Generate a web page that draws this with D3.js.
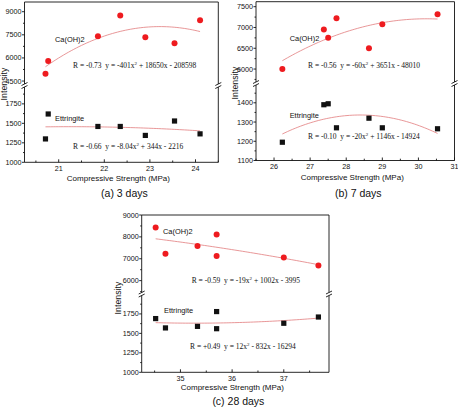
<!DOCTYPE html>
<html>
<head>
<meta charset="utf-8">
<script src="https://cdn.jsdelivr.net/npm/d3@7"></script>
<style>
    body { margin: 0; background: #fff; }
    svg { display: block; }
    .tick-label { font-family: "Liberation Sans", Arial, sans-serif; font-size: 7.2px; fill: #111; }
    .axis-title { font-family: "Liberation Sans", Arial, sans-serif; font-size: 8px; fill: #111; }
    .y-title { font-family: "Liberation Sans", Arial, sans-serif; font-size: 8.8px; fill: #111; }
    .caption { font-family: "Liberation Sans", Arial, sans-serif; font-size: 10.5px; fill: #111; }
    .species { font-family: "Liberation Sans", Arial, sans-serif; font-size: 7.4px; fill: #111; }
    .fit-text { font-family: "Liberation Serif", "Times New Roman", serif; font-size: 7.5px; fill: #111; }
    .frame { stroke: #111; stroke-width: 0.9; fill: none; }
    .fit { stroke: #e27c7e; stroke-width: 0.8; fill: none; }
</style>
</head>
<body>
<svg id="chart" width="458" height="407"></svg>
<script>
'use strict';

// (a) 3 days
var strength3 = [20.71, 20.77, 21.86, 22.35, 22.90, 23.54, 24.10];
var caoh3 = [4970, 5800, 7400, 8750, 7350, 6950, 8450];
var ettr3 = [1300, 1620, 1460, 1460, 1345, 1530, 1365];

// (b) 7 days
var strength7 = [26.23, 27.38, 27.50, 27.73, 28.63, 29.00, 30.53];
var caoh7 = [6000, 6950, 6750, 7220, 6500, 7080, 7320];
var ettr7 = [1195, 1390, 1395, 1270, 1320, 1270, 1265];

// (c) 28 days
var strength28 = [34.52, 34.71, 35.33, 35.70, 35.70, 37.00, 37.67];
var caoh28 = [8430, 7230, 7580, 8110, 7130, 7055, 6690];
var ettr28 = [1690, 1570, 1590, 1780, 1560, 1630, 1710];

// tick labels
var xTicks3 = [21, 22, 23, 24];
var xTicks7 = [26, 27, 28, 29, 30, 31];
var xTicks28 = [35, 36, 37];
var upperTicks3 = [4500, 6000, 7500, 9000];
var lowerTicks3 = [1000, 1250, 1500, 1750];
var upperTicks7 = [6000, 6500, 7000, 7500];
var lowerTicks7 = [1100, 1200, 1300, 1400];
var upperTicks28 = [6000, 7000, 8000, 9000];
var lowerTicks28 = [1000, 1250, 1500, 1750];

// texts
var captions = ['(a) 3 days', '(b) 7 days', '(c) 28 days'];
var caohR = ['R = -0.73', 'R = -0.56', 'R = -0.59'];
var caohEq = ['y = -401x^2 + 18650x - 208598', 'y = -60x^2 + 3651x - 48010', 'y = -19x^2 + 1002x - 3995'];
var ettrR = ['R = -0.66', 'R = -0.10', 'R = +0.49'];
var ettrEq = ['y = -8.04x^2 + 344x - 2216', 'y = -20x^2 + 1146x - 14924', 'y = 12x^2 - 832x - 16294'];

var svg = d3.select('#chart');

//least squares quadratic, x centred on the mean
function quadFit(xs, ys) {
    var m = d3.mean(xs);
    var s = [0, 0, 0, 0, 0], r = [0, 0, 0];
    xs.forEach(function (x, i) {
        var t = x - m, p = 1;
        for (var k = 0; k < 5; k++) {
            s[k] += p;
            if (k < 3) { r[k] += p * ys[i]; }
            p *= t;
        }
    });
    var A = [[s[0], s[1], s[2], r[0]], [s[1], s[2], s[3], r[1]], [s[2], s[3], s[4], r[2]]];
    var i, j, k;
    for (i = 0; i < 3; i++) {
        for (j = i + 1; j < 3; j++) {
            var f = A[j][i] / A[i][i];
            for (k = i; k < 4; k++) { A[j][k] -= f * A[i][k]; }
        }
    }
    var c = [0, 0, 0];
    for (i = 2; i >= 0; i--) {
        var v = A[i][3];
        for (j = i + 1; j < 3; j++) { v -= A[i][j] * c[j]; }
        c[i] = v / A[i][i];
    }
    return function (x) { var t = x - m; return c[0] + c[1] * t + c[2] * t * t; };
}

function fitText(g, x, y, r, eq) {
    var parts = eq.split('^2');
    var t = g.append('text').attr('class', 'fit-text').attr('x', x).attr('y', y);
    t.append('tspan').text(r + '\u00a0\u00a0' + parts[0]);
    t.append('tspan').attr('dy', -2.8).attr('font-size', '5px').text('2');
    t.append('tspan').attr('dy', 2.8).text(parts[1]);
}

var panels = [
    {
        strength: strength3, caoh: caoh3, ettr: ettr3, idx: 0,
        left: 24.5, right: 218.3, top: 2, brk: 85.5, bottom: 162.3,
        xDomain: [20.25, 24.5], upper: [4340, 9630], lower: [1000, 1960],
        xTicks: xTicks3, upperTicks: upperTicks3, lowerTicks: lowerTicks3,
        caLabel: [55, 42], ettLabel: [55, 121], caFit: [73, 68], ettFit: [73, 149],
        yTitle: [7, 84], xTitleY: 181, captionY: 197
    },
    {
        strength: strength7, caoh: caoh7, ettr: ettr7, idx: 1,
        left: 256, right: 454.5, top: 1.7, brk: 83.5, bottom: 160.5,
        xDomain: [25.5, 31], upper: [5700, 7620], lower: [1100, 1490],
        xTicks: xTicks7, upperTicks: upperTicks7, lowerTicks: lowerTicks7,
        caLabel: [289.7, 40.5], ettLabel: [289.7, 117.5], caFit: [308, 68], ettFit: [308, 138.5],
        yTitle: [237.5, 83], xTitleY: 179.5, captionY: 197
    },
    {
        strength: strength28, caoh: caoh28, ettr: ettr28, idx: 2,
        left: 141.7, right: 329, top: 215, brk: 294, bottom: 372.3,
        xDomain: [34.25, 37.875], upper: [5480, 9000], lower: [1000, 1980],
        xTicks: xTicks28, upperTicks: upperTicks28, lowerTicks: lowerTicks28,
        caLabel: [163, 233.5], ettLabel: [164, 312.5], caFit: [191.7, 282.7], ettFit: [190, 349],
        yTitle: [121, 298], xTitleY: 390, captionY: 405
    }
];

function drawPanel(p) {
    var g = svg.append('g').attr('class', 'panel');
    var gap = 2;

    var x = d3.scaleLinear().domain(p.xDomain).range([p.left, p.right]);
    var yUp = d3.scaleLinear().domain(p.upper).range([p.brk - gap, p.top]);
    var yLo = d3.scaleLinear().domain(p.lower).range([p.bottom, p.brk + gap]);

    //frame with broken side axes
    g.append('line').attr('class', 'frame')
        .attr('x1', p.left).attr('x2', p.right).attr('y1', p.top).attr('y2', p.top);
    g.append('line').attr('class', 'frame')
        .attr('x1', p.left).attr('x2', p.right).attr('y1', p.bottom).attr('y2', p.bottom);
    [p.left, p.right].forEach(function (ax) {
        g.append('line').attr('class', 'frame')
            .attr('x1', ax).attr('x2', ax).attr('y1', p.top).attr('y2', p.brk - 1.5);
        g.append('line').attr('class', 'frame')
            .attr('x1', ax).attr('x2', ax).attr('y1', p.brk + 1.5).attr('y2', p.bottom);
        [-1.5, 1.5].forEach(function (d) {
            g.append('line').attr('class', 'frame')
                .attr('x1', ax - 3).attr('y1', p.brk + d + 1.5)
                .attr('x2', ax + 3).attr('y2', p.brk + d - 1.5);
        });
    });

    //x ticks (inward) and labels
    var step = 0.5;
    var minors = d3.range(Math.ceil(p.xDomain[0] / step) * step, p.xDomain[1] + 1e-6, step);
    g.selectAll('.xtick').data(minors).enter().append('line')
        .attr('class', 'frame')
        .attr('x1', function (d) { return x(d); }).attr('x2', function (d) { return x(d); })
        .attr('y1', p.bottom)
        .attr('y2', function (d) { return p.bottom - (Number.isInteger(d) ? 3 : 1.8); });
    g.selectAll('.xlab').data(p.xTicks).enter().append('text')
        .attr('class', 'tick-label')
        .attr('text-anchor', 'middle')
        .attr('x', function (d) { return x(d); })
        .attr('y', p.bottom + 8.5)
        .text(function (d) { return d; });

    //y ticks (outward) and labels, upper and lower segments
    [[yUp, p.upperTicks], [yLo, p.lowerTicks]].forEach(function (seg) {
        var y = seg[0], ticks = seg[1];
        var half = (ticks[1] - ticks[0]) / 2;
        var dom = y.domain();
        var all = d3.range(ticks[0] - 2 * half, dom[1] + 1e-6, half).filter(function (v) {
            return v >= dom[0] - 1e-6;
        });
        g.selectAll(null).data(all).enter().append('line')
            .attr('class', 'frame')
            .attr('x1', p.left)
            .attr('x2', function (v) { return p.left - (ticks.indexOf(v) >= 0 ? 2.5 : 1.5); })
            .attr('y1', function (v) { return y(v); })
            .attr('y2', function (v) { return y(v); });
        g.selectAll(null).data(ticks).enter().append('text')
            .attr('class', 'tick-label')
            .attr('text-anchor', 'end')
            .attr('x', p.left - 3)
            .attr('y', function (v) { return y(v) + 2.5; })
            .text(function (v) { return v; });
    });

    //fitted curves
    var xs = p.strength;
    var x0 = d3.min(xs), x1 = d3.max(xs);
    var samples = d3.range(61).map(function (i) { return x0 + (x1 - x0) * i / 60; });
    [[p.caoh, yUp], [p.ettr, yLo]].forEach(function (s) {
        var f = quadFit(xs, s[0]);
        var line = d3.line()
            .x(function (d) { return x(d); })
            .y(function (d) { return s[1](f(d)); });
        g.append('path').attr('class', 'fit').attr('d', line(samples));
    });

    //points
    g.selectAll('.ca').data(xs).enter().append('circle')
        .attr('cx', function (d) { return x(d); })
        .attr('cy', function (d, i) { return yUp(p.caoh[i]); })
        .attr('r', 3)
        .attr('fill', '#ee1b1f');
    g.selectAll('.et').data(xs).enter().append('rect')
        .attr('x', function (d) { return x(d) - 2.6; })
        .attr('y', function (d, i) { return yLo(p.ettr[i]) - 2.6; })
        .attr('width', 5.2).attr('height', 5.2)
        .attr('fill', '#111');

    //labels
    g.append('text').attr('class', 'species')
        .attr('x', p.caLabel[0]).attr('y', p.caLabel[1]).text('Ca(OH)2');
    g.append('text').attr('class', 'species')
        .attr('x', p.ettLabel[0]).attr('y', p.ettLabel[1]).text('Ettringite');
    fitText(g, p.caFit[0], p.caFit[1], caohR[p.idx], caohEq[p.idx]);
    fitText(g, p.ettFit[0], p.ettFit[1], ettrR[p.idx], ettrEq[p.idx]);

    var cx = (p.left + p.right) / 2;
    g.append('text').attr('class', 'axis-title')
        .attr('text-anchor', 'middle')
        .attr('x', cx - 3).attr('y', p.xTitleY)
        .text('Compressive Strength (MPa)');
    g.append('text').attr('class', 'caption')
        .attr('text-anchor', 'middle')
        .attr('x', cx + 3).attr('y', p.captionY)
        .text(captions[p.idx]);
    g.append('text').attr('class', 'y-title')
        .attr('text-anchor', 'middle')
        .attr('transform', 'translate(' + p.yTitle[0] + ',' + p.yTitle[1] + ') rotate(-90)')
        .text('Intensity');
}

panels.forEach(drawPanel);
</script>
</body>
</html>
